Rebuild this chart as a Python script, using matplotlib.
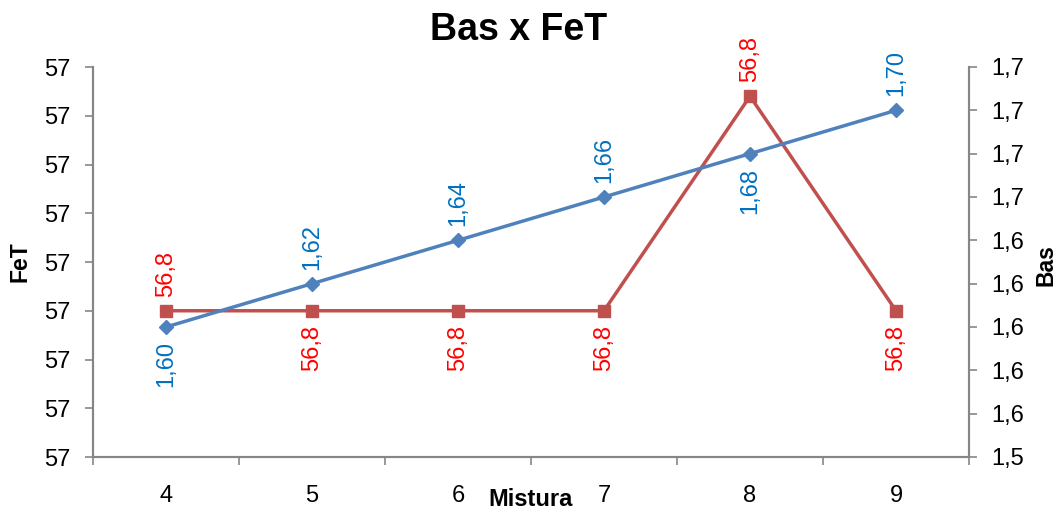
import matplotlib
matplotlib.use("Agg")
import matplotlib.pyplot as plt
from matplotlib.ticker import FuncFormatter, MultipleLocator

plt.rcParams['font.family'] = ['Liberation Sans Narrow', 'Liberation Sans', 'DejaVu Sans']

# data
mistura = ['4', '5', '6', '7', '8', '9']
bas = [1.60, 1.62, 1.64, 1.66, 1.68, 1.70]
fet = [56.79, 56.79, 56.79, 56.79, 56.834, 56.79]
bas_labels = ['1,60', '1,62', '1,64', '1,66', '1,68', '1,70']
fet_labels = ['56,8', '56,8', '56,8', '56,8', '56,8', '56,8']
bas_pos = ['below', 'above', 'above', 'above', 'below', 'above']
fet_pos = ['above', 'below', 'below', 'below', 'above', 'below']

blue = '#4F81BD'
red = '#C0504D'
blue_txt = '#0070C0'
red_txt = '#FF0000'
grey = '#868686'

fig = plt.figure(figsize=(10.62, 5.12), dpi=100)
ax = fig.add_axes([93 / 1062, 55 / 512, 876 / 1062, 390 / 512])
ax2 = ax.twinx()

x = list(range(len(mistura)))

ax.plot(x, fet, color=red, lw=2.5, marker='s', ms=9, zorder=3)
ax2.plot(x, bas, color=blue, lw=2.5, marker='D', ms=7, zorder=3)

# left axis
ax.set_ylim(56.76, 56.84)
ax.yaxis.set_major_locator(MultipleLocator(0.01))
ax.yaxis.set_major_formatter(FuncFormatter(lambda v, p: f'{v:.0f}'.replace('.', ',')))
# right axis
ax2.set_ylim(1.54, 1.72)
ax2.yaxis.set_major_locator(MultipleLocator(0.02))
ax2.yaxis.set_major_formatter(FuncFormatter(lambda v, p: f'{v:.1f}'.replace('.', ',')))

ax.set_xlim(-0.5, len(mistura) - 0.5)
ax.set_xticks(x)
ax.set_xticklabels(mistura)
ax.set_xticks([i - 0.5 for i in range(len(mistura) + 1)], minor=True)
ax.tick_params(axis='x', which='major', length=0, pad=20, labelsize=17)
ax.tick_params(axis='x', which='minor', length=6, width=1.2, color=grey, direction='out')
ax.tick_params(axis='y', length=6, width=1.2, color=grey, labelsize=17, pad=10)
ax2.tick_params(axis='y', length=6, width=1.2, color=grey, labelsize=17, pad=10)

for a in (ax, ax2):
    a.spines['top'].set_visible(False)
    for s in ('left', 'right', 'bottom'):
        a.spines[s].set_color(grey)
        a.spines[s].set_linewidth(1.5)

# data labels
for i in x:
    dy = 14 if fet_pos[i] == 'above' else -14
    ax.annotate(fet_labels[i], (i, fet[i]), xytext=(0, dy), textcoords='offset pixels',
                rotation=90, ha='center', va='bottom' if dy > 0 else 'top',
                color=red_txt, fontsize=17, zorder=5)
    dy = 14 if bas_pos[i] == 'above' else -14
    ax2.annotate(bas_labels[i], (i, bas[i]), xytext=(0, dy), textcoords='offset pixels',
                 rotation=90, ha='center', va='bottom' if dy > 0 else 'top',
                 color=blue_txt, fontsize=17, zorder=5)

fig.text(519 / 1062, 1 - 30 / 512, 'Bas x FeT', ha='center', va='center',
         fontsize=27, fontweight='bold')
fig.text(20 / 1062, 1 - 262 / 512, 'FeT', ha='center', va='center', rotation=90,
         fontsize=16.5, fontweight='bold')
fig.text(1046 / 1062, 1 - 265 / 512, 'Bas', ha='center', va='center', rotation=90,
         fontsize=16.5, fontweight='bold')
fig.text(531 / 1062, 1 - 499 / 512, 'Mistura', ha='center', va='center',
         fontsize=17, fontweight='bold')

fig.savefig('out.png', dpi=100)
